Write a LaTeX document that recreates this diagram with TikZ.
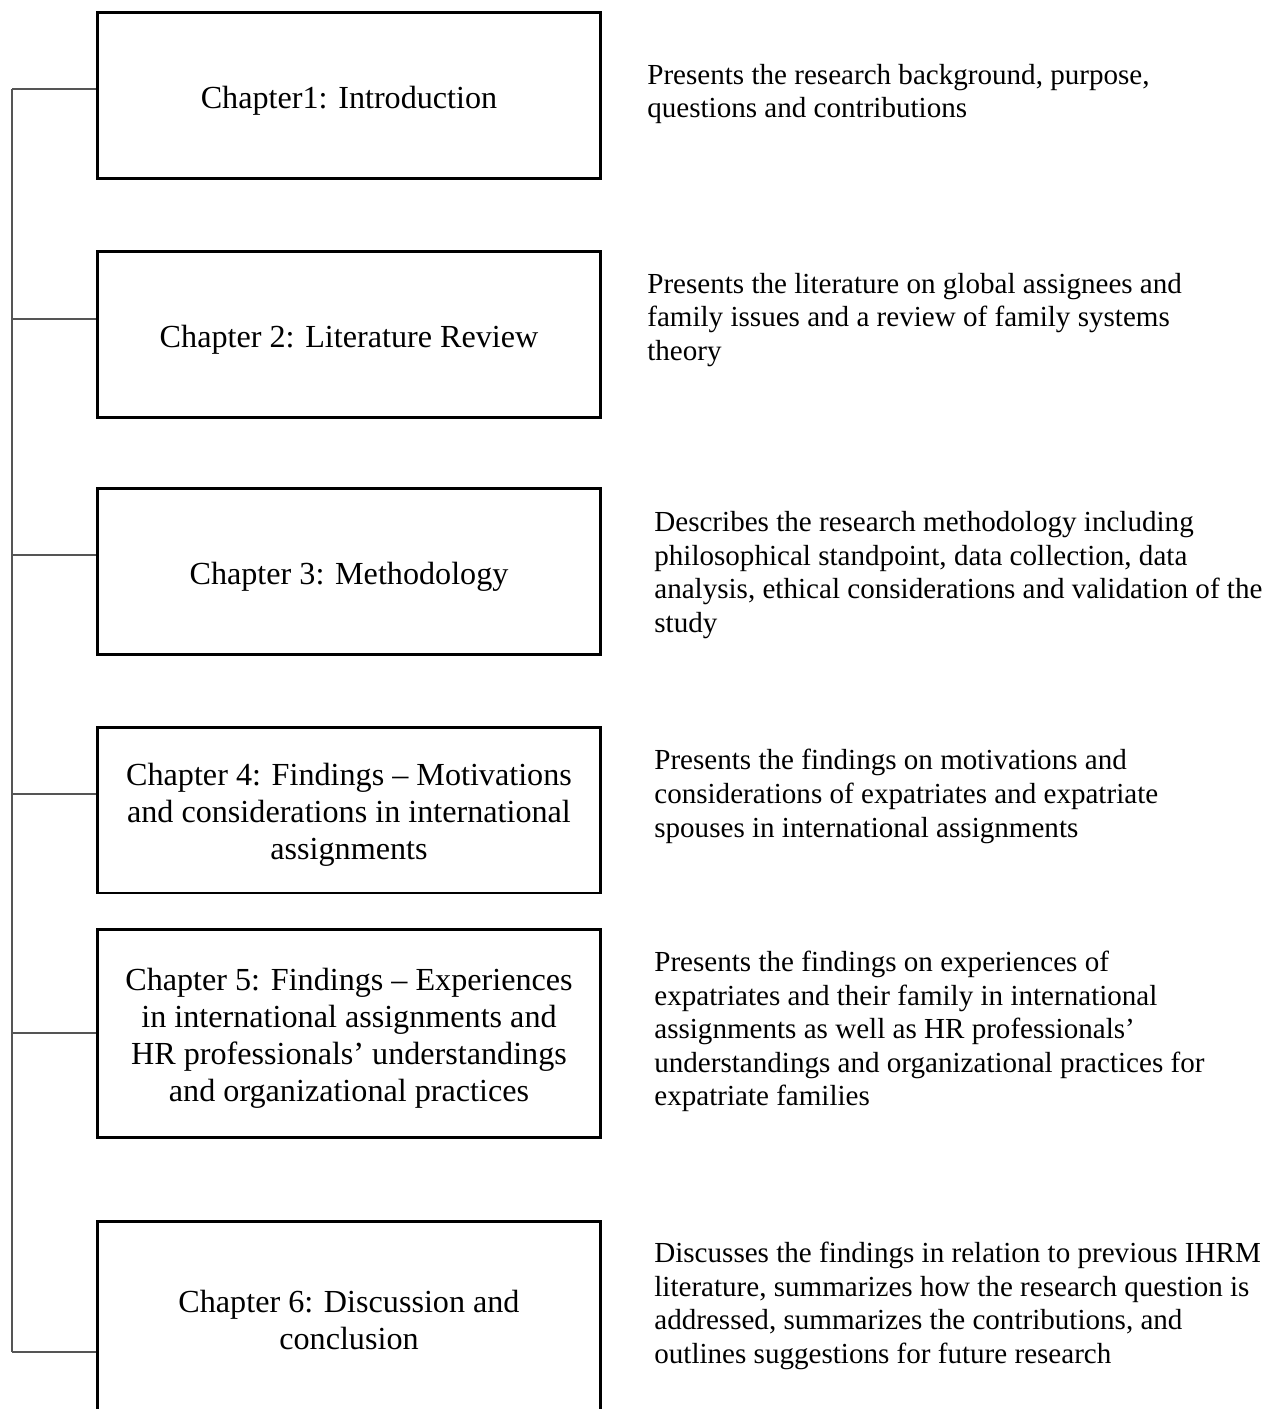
\documentclass[tikz,border=0pt]{standalone}
\usepackage{fontspec}
\setmainfont{Liberation Serif}
\usepackage{tikz}
\newcommand{\boxstrut}{\rule{0pt}{18.2pt}}

\begin{document}
\begin{tikzpicture}[x=0.02cm,y=-0.02cm,
  chapbox/.style={draw=black, line width=1.7pt, minimum width=10.08cm, inner sep=0pt, align=center, font=\fontsize{18.3}{21.05}\selectfont},
  chapnote/.style={anchor=west, inner sep=0pt, align=left, font=\fontsize{16.55}{19.15}\selectfont},
  spine/.style={draw={rgb,255:red,85;green,85;blue,85}, line width=0.85pt}]
\clip (0,0) rectangle (1283,1409);
\node[chapbox,minimum height=3.34cm] (c1) at (349,95.5) {\boxstrut Chapter1: Introduction};
\node[chapbox,minimum height=3.34cm] (c2) at (349,334.5) {\boxstrut Chapter 2: Literature Review};
\node[chapbox,minimum height=3.34cm] (c3) at (349,571.5) {\boxstrut Chapter 3: Methodology};
\node[chapbox,minimum height=3.32cm] (c4) at (349,810) {\boxstrut Chapter 4: Findings – Motivations\\and considerations in international\\assignments};
\node[chapbox,minimum height=4.18cm] (c5) at (349,1033.5) {\boxstrut Chapter 5: Findings – Experiences\\in international assignments and\\HR professionals’ understandings\\and organizational practices};
\node[chapbox,minimum height=3.96cm] (c6) at (349,1320) {Chapter 6: Discussion and\\conclusion};
\node[chapnote] (n1) at (647,94) {Presents the research background, purpose,\\questions and contributions};
\node[chapnote] (n2) at (647,320) {Presents the literature on global assignees and\\family issues and a review of family systems\\theory};
\node[chapnote] (n3) at (654,575) {Describes the research methodology including\\philosophical standpoint, data collection, data\\analysis, ethical considerations and validation of the\\study};
\node[chapnote] (n4) at (654,796.5) {Presents the findings on motivations and\\considerations of expatriates and expatriate\\spouses in international assignments};
\node[chapnote] (n5) at (654,1031.5) {Presents the findings on experiences of\\expatriates and their family in international\\assignments as well as HR professionals’\\understandings and organizational practices for\\expatriate families};
\node[chapnote] (n6) at (654,1306) {Discusses the findings in relation to previous IHRM\\literature, summarizes how the research question is\\addressed, summarizes the contributions, and\\outlines suggestions for future research};
\coordinate (s1) at (12,89);
\coordinate (s2) at (12,319);
\coordinate (s3) at (12,555);
\coordinate (s4) at (12,794);
\coordinate (s5) at (12,1033);
\coordinate (s6) at (12,1352);
\draw[spine] (s1) -- (s6);
\draw[spine] (s1) -- (s1 -| c1.west);
\draw[spine] (s2) -- (s2 -| c2.west);
\draw[spine] (s3) -- (s3 -| c3.west);
\draw[spine] (s4) -- (s4 -| c4.west);
\draw[spine] (s5) -- (s5 -| c5.west);
\draw[spine] (s6) -- (s6 -| c6.west);
\end{tikzpicture}
\end{document}
